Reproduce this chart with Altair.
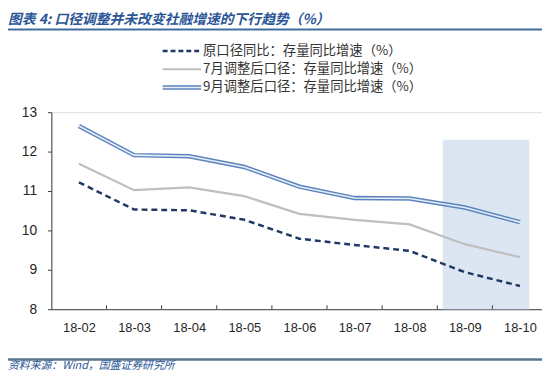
import json
import altair as alt
import pandas as pd

# ---- data ----
months = ["18-02", "18-03", "18-04", "18-05", "18-06", "18-07", "18-08", "18-09", "18-10"]
orig = [11.22, 10.53, 10.51, 10.27, 9.79, 9.63, 9.48, 8.94, 8.59]
adj_jul = [11.69, 11.02, 11.09, 10.87, 10.42, 10.27, 10.15, 9.65, 9.32]
adj_sep = [12.65, 11.91, 11.88, 11.61, 11.11, 10.82, 10.81, 10.58, 10.21]
series_names = [
    "原口径同比：存量同比增速（%）",
    "7月调整后口径：存量同比增速（%）",
    "9月调整后口径：存量同比增速（%）",
]
y_ticks = [8, 9, 10, 11, 12, 13]
shade_x = [6.6, 8.17]
shade_y = [8, 12.3]
title_text = "图表 4:  口径调整并未改变社融增速的下行趋势（%）"
source_text = "资料来源：Wind，国盛证券研究所"

W, H = 498, 200
NAVY = "#1F3864"
GRAY = "#BFBFBF"
BLUE = "#5B84BE"
BLUE_IN = "#E8EEF7"
SHADE = "#DCE6F2"
FONT = "Liberation Sans"
CJK = "Noto Sans CJK SC"

idx = list(range(len(months)))
df_orig = pd.DataFrame({"i": idx, "m": months, "v": orig})
df_jul = pd.DataFrame({"i": idx, "m": months, "v": adj_jul})
df_sep = pd.DataFrame({"i": idx, "m": months, "v": adj_sep})
df_shade = pd.DataFrame({"i": [shade_x[0]], "i2": [shade_x[1]], "v": [shade_y[0]], "v2": [shade_y[1]]})
df_ticks = pd.DataFrame({"i": [k + 0.5 for k in idx[:-1]], "v": [8] * (len(idx) - 1), "v2": [8.1] * (len(idx) - 1)})
one = pd.DataFrame({"a": [0]})

xscale = alt.Scale(domain=[-0.5, 8.4], nice=False, zero=False)
yscale = alt.Scale(domain=[8, 13], nice=False, zero=False)
label_expr = json.dumps(months) + "[datum.value]"

xaxis = alt.Axis(values=idx, labelExpr=label_expr, tickSize=0, labelPadding=13, grid=False, title=None,
                 domainColor="#404040", labelFont=FONT, labelFontSize=13, labelColor="#262626")
yaxis = alt.Axis(values=y_ticks, tickSize=4, tickColor="#404040", labelPadding=11, grid=False, title=None,
                 domainColor="#404040", labelFont=FONT, labelFontSize=14, labelColor="#262626")

X = alt.X("i:Q", scale=xscale, axis=xaxis)
Y = alt.Y("v:Q", scale=yscale, axis=yaxis)

shade = alt.Chart(df_shade).mark_rect(color=SHADE).encode(x=X, x2="i2:Q", y=Y, y2="v2:Q")

def line(df, **kw):
    return alt.Chart(df).mark_line(**kw).encode(x=X, y=Y)

l_jul = line(df_jul, color=GRAY, strokeWidth=2.3)
l_orig = line(df_orig, color=NAVY, strokeWidth=2.5, strokeDash=[6, 4])
l_sep_o = line(df_sep, color=BLUE, strokeWidth=4.5)
l_sep_i = line(df_sep, color=BLUE_IN, strokeWidth=1.6)

ticks = alt.Chart(df_ticks).mark_rule(color="#404040", strokeWidth=1).encode(x=X, y=Y, y2="v2:Q")

def vrule(x1, x2, y, **kw):
    return alt.Chart(one).mark_rule(**kw).encode(x=alt.value(x1), x2=alt.value(x2), y=alt.value(y))

def vtext(txt, x, y, **kw):
    return alt.Chart(one).mark_text(**kw).encode(x=alt.value(x), y=alt.value(y), text=alt.value(txt))

leg_rows = [-62, -43.5, -25]
lx1, lx2, ltx = 113, 152, 154
legend = [
    vrule(lx1, lx2, leg_rows[0], color=NAVY, strokeWidth=2.5, strokeDash=[5, 3]),
    vrule(lx1, lx2, leg_rows[1], color=GRAY, strokeWidth=2),
    vrule(lx1, lx2, leg_rows[2], color=BLUE, strokeWidth=4.5),
    vrule(lx1, lx2, leg_rows[2], color=BLUE_IN, strokeWidth=1.6),
]
for name, yy in zip(series_names, leg_rows):
    legend.append(vtext(name, ltx, yy, align="left", baseline="middle", font=CJK, fontSize=13.5,
                        color="#333333"))

deco = [
    vtext(title_text, -44, -89, align="left", baseline="alphabetic", font=CJK, fontSize=14,
          fontStyle="italic", fontWeight="bold", color="#2A5596"),
    vrule(-44, W, -84, color="#3F6E9E", strokeWidth=2),
    vrule(-44, W, 251, color="#5A7892", strokeWidth=2.5),
    vtext(source_text, -44, 258, align="left", baseline="middle", font=CJK, fontSize=11,
          fontStyle="italic", color="#2A5596"),
]

chart = alt.layer(shade, l_jul, l_orig, l_sep_o, l_sep_i, ticks, *legend, *deco).properties(
    width=W, height=H,
    autosize=alt.AutoSizeParams(type="none"),
    padding={"left": 44, "top": 103, "right": 0, "bottom": 62},
).configure_view(stroke=None).configure(background="white")

chart.save("out.html", embed_options={"renderer": "svg", "actions": False})
